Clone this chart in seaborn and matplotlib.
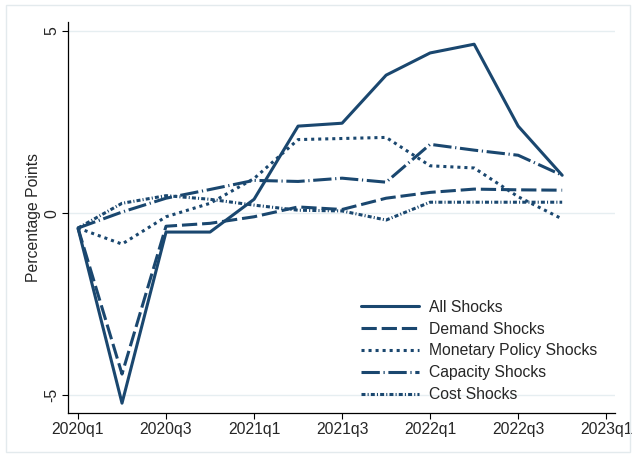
import numpy as np
import pandas as pd
import matplotlib
matplotlib.use('Agg')
import matplotlib.pyplot as plt
from matplotlib.patches import Rectangle
import seaborn as sns

# quarters 2020q1 .. 2022q4
quarters = ['2020q1', '2020q2', '2020q3', '2020q4', '2021q1', '2021q2',
            '2021q3', '2021q4', '2022q1', '2022q2', '2022q3', '2022q4']
all_shocks = [-0.41, -5.22, -0.52, -0.52, 0.38, 2.39, 2.47, 3.79, 4.40, 4.64, 2.39, 1.04]
demand_shocks = [-0.41, -4.42, -0.36, -0.28, -0.10, 0.17, 0.10, 0.41, 0.57, 0.66, 0.64, 0.63]
monetary_shocks = [-0.41, -0.85, -0.10, 0.27, 0.95, 2.02, 2.05, 2.08, 1.30, 1.24, 0.45, -0.16]
capacity_shocks = [-0.41, 0.03, 0.41, 0.65, 0.90, 0.87, 0.96, 0.85, 1.89, 1.73, 1.59, 1.04]
cost_shocks = [-0.41, 0.27, 0.48, 0.38, 0.22, 0.08, 0.06, -0.19, 0.30, 0.30, 0.30, 0.30]

tick_labels = ['2020q1', '2020q3', '2021q1', '2021q3', '2022q1', '2022q3', '2023q1']

series = {
    'All Shocks': all_shocks,
    'Demand Shocks': demand_shocks,
    'Monetary Policy Shocks': monetary_shocks,
    'Capacity Shocks': capacity_shocks,
    'Cost Shocks': cost_shocks,
}
df = pd.concat(
    [pd.DataFrame({'q': np.arange(len(quarters)), 'value': v, 'series': k})
     for k, v in series.items()],
    ignore_index=True,
)

navy = '#1a476f'
dash_map = {
    'All Shocks': '',
    'Demand Shocks': (5.0, 1.6),
    'Monetary Policy Shocks': (1.0, 1.3),
    'Capacity Shocks': (6.0, 1.2, 0.4, 1.2),
    'Cost Shocks': (1.3, 0.7, 0.35, 0.7),
}

sns.set_style('white')
plt.rcParams['font.family'] = ['Liberation Sans', 'DejaVu Sans']
fs = 11.3

fig = plt.figure(figsize=(6.32, 4.57), dpi=100)
ax = fig.add_axes([68/632, 1 - 413/457, 547/632, 391/457])

# light outer frame like a Stata graph region
fig.patches.append(Rectangle((6/632, 5/457), 624/632, 447/457, transform=fig.transFigure,
                             fill=False, edgecolor='#e3eaed', linewidth=1.0))

for yv in [-5, 0, 5]:
    ax.axhline(yv, color='#e6eef1', linewidth=1.0, zorder=0)

sns.lineplot(data=df, x='q', y='value', style='series', dashes=dash_map,
             color=navy, linewidth=2.2, ax=ax, legend='full')

ax.set_xlim(-0.227, 12.2)
ax.set_ylim(-5.49, 5.25)
ax.set_xticks(np.arange(0, 13, 2))
ax.set_xticklabels(tick_labels)
ax.set_yticks([-5, 0, 5])
ax.set_yticklabels(['-5', '0', '5'], rotation=90, va='center')
ax.set_xlabel('')
ax.set_ylabel('Percentage Points', fontsize=fs, labelpad=2.5)
ax.tick_params(axis='both', labelsize=fs, length=4.3, width=0.8, color='black',
               direction='out', bottom=True, left=True)
ax.tick_params(axis='y', pad=2)
ax.tick_params(axis='x', pad=2.5)

for side in ['top', 'right']:
    ax.spines[side].set_visible(False)
for side in ['left', 'bottom']:
    ax.spines[side].set_color('black')
    ax.spines[side].set_linewidth(0.9)

handles, labels = ax.get_legend_handles_labels()
ax.legend(handles, labels, loc='upper left', bbox_to_anchor=(0.536, 0.290),
          frameon=False, fontsize=fs, handlelength=3.7, handletextpad=0.64,
          labelspacing=0.44, borderpad=0, borderaxespad=0)

fig.savefig('out.png', dpi=100)
